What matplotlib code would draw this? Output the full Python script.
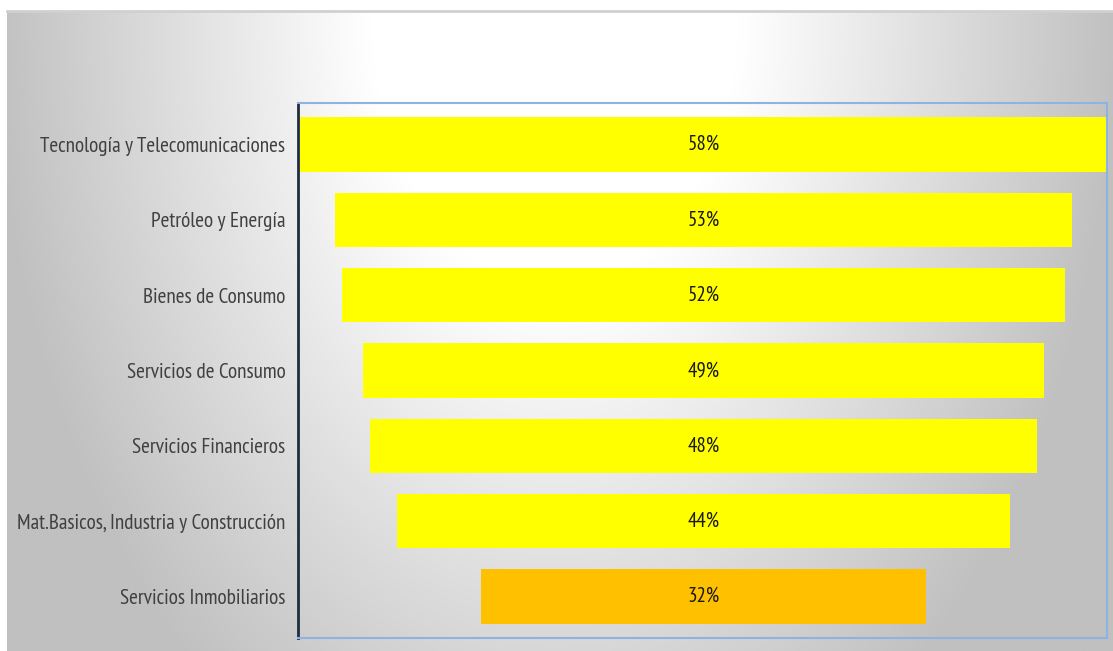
import numpy as np
import matplotlib
matplotlib.use("Agg")
import matplotlib.pyplot as plt
from matplotlib import font_manager
from matplotlib.textpath import TextPath
from matplotlib.font_manager import FontProperties

# Sector data
sectors = [
    "Tecnología y Telecomunicaciones",
    "Petróleo y Energía",
    "Bienes de Consumo",
    "Servicios de Consumo",
    "Servicios Financieros",
    "Mat.Basicos, Industria y Construcción",
    "Servicios Inmobiliarios",
]
values = [58, 53, 52, 49, 48, 44, 32]
bar_colors = ["#FFFF00"] * 6 + ["#FFC000"]

installed = {f.name for f in font_manager.fontManager.ttflist}
preferred = ["PT Sans Narrow", "Open Sans Condensed", "Roboto Condensed",
             "Carlito", "Open Sans", "DejaVu Sans"]
families = [f for f in preferred if f in installed] + ["DejaVu Sans"]
plt.rcParams["font.family"] = families

W, H = 1113, 651
DPI = 100


def size_for_width(texts, width_px):
    """Font size (pt) at which the texts together are about `width_px` pixels wide."""
    ref = 10.0
    prop = FontProperties(family=families[0])
    w_pt = sum(TextPath((0, 0), s, size=ref, prop=prop).get_extents().width for s in texts)
    return ref * (width_px * 72 / DPI) / w_pt


label_size = size_for_width(sectors, 1258)
value_size = size_for_width(["58%"], 30)

fig = plt.figure(figsize=(W / DPI, H / DPI), dpi=DPI)
fig.patch.set_facecolor("white")

# Background panel with a soft radial gradient (white near the top centre)
bg = fig.add_axes([7 / W, 0, (W - 7) / W, (H - 11) / H])
bg.set_axis_off()
ny, nx = 320, 560
xx = np.linspace(7, W, nx)
yy = np.linspace(11, H, ny)
X, Y = np.meshgrid(xx, yy)
r = np.sqrt((X - 555) ** 2 + ((Y - 11) * 0.66) ** 2)
t = np.clip((r - 185) / 380, 0, 1)
g = 1.0 - t * (63 / 255)
bg.imshow(np.dstack([g, g, g]), extent=[0, 1, 0, 1], aspect="auto",
          origin="upper", interpolation="bilinear")
bg.set_xlim(0, 1)
bg.set_ylim(0, 1)
fig.add_artist(plt.Line2D([7 / W, 1], [(H - 10.5) / H] * 2, color="#d0d0d0", lw=2))

# Plot area
ax = fig.add_axes([298 / W, 13 / H, (1107 - 298) / W, (638 - 103) / H])
ax.patch.set_alpha(0)
y = np.arange(len(sectors))
lefts = [-v / 2 for v in values]
ax.barh(y, values, left=lefts, height=0.72, color=bar_colors, edgecolor="none")
for yi, v in zip(y, values):
    ax.text(0, yi, f"{v}%", ha="center", va="center", fontsize=value_size, color="#1a1a1a")

ax.set_xlim(-29.15, 29.0)
ax.set_ylim(len(sectors) - 0.45, -0.55)
ax.set_yticks(y)
ax.set_yticklabels(sectors, fontsize=label_size, color="#404040")
ax.tick_params(axis="y", length=0, pad=9)
ax.set_xticks([])
for side in ["top", "right", "bottom"]:
    ax.spines[side].set_color("#8db3e2")
    ax.spines[side].set_linewidth(1.5)
ax.spines["left"].set_color("#1f2d3d")
ax.spines["left"].set_linewidth(2)

fig.savefig("out.png", dpi=DPI, facecolor="white")
